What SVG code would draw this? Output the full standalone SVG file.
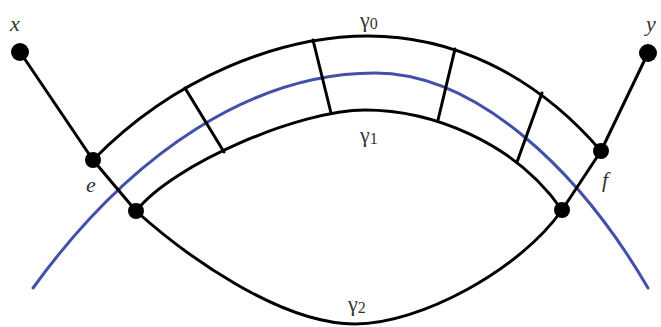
<svg xmlns="http://www.w3.org/2000/svg" width="661" height="327" viewBox="0 0 661 327">
<style>
.k{fill:none;stroke:#000;stroke-width:3;stroke-linecap:round;stroke-linejoin:round}
.b{fill:none;stroke:#4350a8;stroke-width:3;stroke-linecap:round}
.dot{fill:#000}
text{font-family:'Liberation Serif','DejaVu Serif',serif;fill:#333}
.lab{font-style:italic;font-size:22px}
.g{font-size:22px}
.sub{font-size:16px}
</style>
<rect width="661" height="327" fill="#fff"/>
<g id="connectors">
<path id="blue" class="b" d="M33,288 C133,150 255,73 375,73 C475,73 578,168 648,288"/>
<path id="gamma0" class="k" d="M93,160 C174,77 280,36 368,36 C450,36 533,72 601,151"/>
<path id="gamma1" class="k" d="M136,211 C173,164 300,110 365,110 C430,110 514,141 562,210"/>
<path id="gamma2" class="k" d="M136,211 C185,255 280,324 355,324 C420,324 520,270 562,210"/>
<polyline class="k" points="20,52 93,160 136,211"/>
<polyline class="k" points="648,53 601,151 562,210"/>
<line class="k" x1="185" y1="88" x2="224" y2="152"/>
<line class="k" x1="313" y1="40" x2="331" y2="113"/>
<line class="k" x1="455" y1="49" x2="438" y2="120"/>
<line class="k" x1="542" y1="93" x2="517" y2="162"/>
</g>
<g id="node-x"><circle class="dot" cx="20" cy="52" r="9"/><text class="lab" x="10" y="31" font-family="Liberation Serif">x</text></g>
<g id="node-y"><circle class="dot" cx="648" cy="53" r="9"/><text class="lab" x="646" y="31" font-family="Liberation Serif">y</text></g>
<g id="node-e"><circle class="dot" cx="93" cy="160" r="8"/><text class="lab" x="86" y="192" font-family="Liberation Serif">e</text></g>
<g id="node-f"><circle class="dot" cx="601" cy="151" r="8"/><text class="lab" x="602" y="187" font-family="Liberation Serif">f</text></g>
<g id="node-p"><circle class="dot" cx="136" cy="211" r="8"/></g>
<g id="node-q"><circle class="dot" cx="562" cy="210" r="8"/></g>
<g id="labels">
<text class="g" x="360" y="27" font-family="Liberation Serif">γ<tspan class="sub" dy="2">0</tspan></text>
<text class="g" x="360" y="142" font-family="Liberation Serif">γ<tspan class="sub" dy="2">1</tspan></text>
<text class="g" x="348" y="311" font-family="Liberation Serif">γ<tspan class="sub" dy="2">2</tspan></text>
</g>
</svg>
